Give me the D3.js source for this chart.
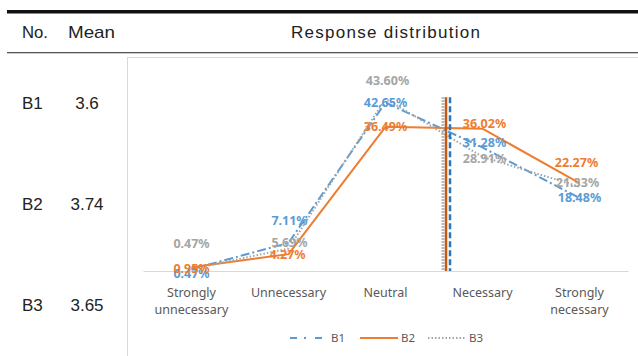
<!DOCTYPE html>
<html><head><meta charset="utf-8">
<script src="https://cdn.jsdelivr.net/npm/d3@7"></script>
<style>
html,body{margin:0;padding:0;background:#fff;}
svg{display:block;}
</style></head>
<body>
<svg id="c" width="638" height="356"></svg>
<script>
// ---------- data ----------
const categories = ["Strongly unnecessary","Unnecessary","Neutral","Necessary","Strongly necessary"];
const categoryLines = [["Strongly","unnecessary"],["Unnecessary"],["Neutral"],["Necessary"],["Strongly","necessary"]];
const seriesNames = ["B1","B2","B3"];
const means = ["3.6","3.74","3.65"];
const b1Values = [0.47, 7.11, 42.65, 31.28, 18.48];
const b2Values = [0.95, 4.27, 36.49, 36.02, 22.27];
const b3Values = [0.47, 5.69, 43.60, 28.91, 21.33];
// mean markers as drawn in the picture (category-scale units, 1..5)
const meanMarkerPos = [3.665, 3.624, 3.593];
const meanMarkerTop = 44;
const headers = ["No.","Mean","Response distribution"];

// ---------- layout / style ----------
const styles = [
  {line:"#5B9BD5", label:"#5B9BD5", dash:"9,3,2,3", mark:"#2E75B6", markDash:"6,3", markW:2.5},
  {line:"#ED7D31", label:"#ED7D31", dash:null, mark:"#C55A11", markDash:null, markW:2.5},
  {line:"#A5A5A5", label:"#A5A5A5", dash:"1.5,2", mark:"#A5A5A5", markDash:"1.5,1.5", markW:3}
];
// label offsets [dx,dy] from point
const labelOffsets = [
  [[0,4],[1,-22],[0,0],[2,-5],[0,0]],
  [[0,1],[-1,0],[0,0],[2,-5],[-3,-20]],
  [[0,-26],[1,-6],[2,-18],[2,2],[-2,-4]]
];

const svg = d3.select("#c");
const seriesValues = [b1Values, b2Values, b3Values];

// table rules
svg.append("rect").attr("x",7).attr("y",10).attr("width",631).attr("height",3.5).attr("fill","#111");
svg.append("rect").attr("x",7).attr("y",52).attr("width",631).attr("height",1.3).attr("fill","#555");

const tf = "'Liberation Sans', Arial, sans-serif";
svg.append("text").attr("x",22).attr("y",38).text(headers[0])
  .attr("font-family",tf).attr("font-size",17).attr("fill","#222").attr("textLength",26).attr("lengthAdjust","spacingAndGlyphs");
svg.append("text").attr("x",68).attr("y",38).text(headers[1])
  .attr("font-family",tf).attr("font-size",17).attr("fill","#222").attr("textLength",47).attr("lengthAdjust","spacingAndGlyphs");
svg.append("text").attr("x",291).attr("y",38).text(headers[2])
  .attr("font-family",tf).attr("font-size",17).attr("fill","#222").attr("textLength",189).attr("lengthAdjust","spacing");

// row labels
const rowY = d3.scalePoint().domain(seriesNames).range([103,305]);
seriesNames.forEach((n,i)=>{
  svg.append("text").attr("x",22).attr("y",rowY(n)).attr("dy","0.36em").text(n)
    .attr("font-family",tf).attr("font-size",17).attr("fill","#222");
  svg.append("text").attr("x",87).attr("y",rowY(n)).attr("dy","0.36em").attr("text-anchor","middle").text(means[i])
    .attr("font-family",tf).attr("font-size",17).attr("fill","#222");
});

// chart box
svg.append("rect").attr("x",127.5).attr("y",57.5).attr("width",520).attr("height",310)
  .attr("fill","#fff").attr("stroke","#d9d9d9").attr("stroke-width",1);

// scales
const x = d3.scaleBand().domain(categories).range([143,628]);
const cx = c => x(c) + x.bandwidth()/2;
const xc = d3.scaleLinear().domain([1,5]).range([cx(categories[0]), cx(categories[4])]);
const y = d3.scaleLinear().domain([0,50]).range([271,73.5]);

// baseline axis
const axisG = svg.append("g").attr("transform","translate(0,271)")
  .call(d3.axisBottom(x).tickSize(0).tickFormat(""));
axisG.select(".domain").attr("stroke","#d9d9d9").attr("stroke-width",1);

// category labels
const cf = "'Noto Sans', 'Open Sans', sans-serif";
categories.forEach((c,i)=>{
  const t = svg.append("text").attr("x",cx(c)).attr("y",297).attr("text-anchor","middle")
    .attr("font-family",cf).attr("font-size",12.5).attr("fill","#595959");
  categoryLines[i].forEach((l,j)=>{
    t.append("tspan").attr("x",cx(c)).attr("dy", j===0?0:17).text(l);
  });
});

// series lines
const line = d3.line().x((d,i)=>cx(categories[i])).y(d=>y(d));
seriesValues.forEach((vals,s)=>{
  const p = svg.append("path").datum(vals).attr("d",line).attr("fill","none")
    .attr("stroke",styles[s].line).attr("stroke-width",2).attr("stroke-linejoin","round");
  if(styles[s].dash) p.attr("stroke-dasharray",styles[s].dash);
});

// mean marker vertical lines (B3, B2, B1 order left to right)
[2,1,0].forEach(s=>{
  const l = svg.append("line").attr("x1",xc(meanMarkerPos[s])).attr("x2",xc(meanMarkerPos[s]))
    .attr("y1",y(meanMarkerTop)).attr("y2",y(0))
    .attr("stroke",styles[s].mark).attr("stroke-width",styles[s].markW);
  if(styles[s].markDash) l.attr("stroke-dasharray",styles[s].markDash);
});

// data labels
const lf = "'Noto Sans', 'Open Sans', sans-serif";
seriesValues.forEach((vals,s)=>{
  vals.forEach((v,i)=>{
    const o = labelOffsets[s][i];
    svg.append("text").attr("x",cx(categories[i])+o[0]).attr("y",y(v)+o[1]).attr("dy","0.35em")
      .attr("text-anchor","middle").attr("font-family",lf).attr("font-size",12.5).attr("font-weight","bold")
      .attr("fill",styles[s].label).text(v.toFixed(2)+"%");
  });
});

// legend
const legX = [290,360,428];
seriesNames.forEach((n,s)=>{
  const g = svg.append("g");
  const l = g.append("line").attr("x1",legX[s]).attr("x2",legX[s]+38).attr("y1",338).attr("y2",338)
    .attr("stroke",styles[s].line).attr("stroke-width",2);
  if(s===0) l.attr("stroke-dasharray","7,7,2,9");
  if(s===2) l.attr("stroke-dasharray","1.5,2");
  g.append("text").attr("x",legX[s]+41).attr("y",338).attr("dy","0.35em").text(n)
    .attr("font-family",cf).attr("font-size",11.5).attr("fill","#595959");
});
</script>
</body></html>
